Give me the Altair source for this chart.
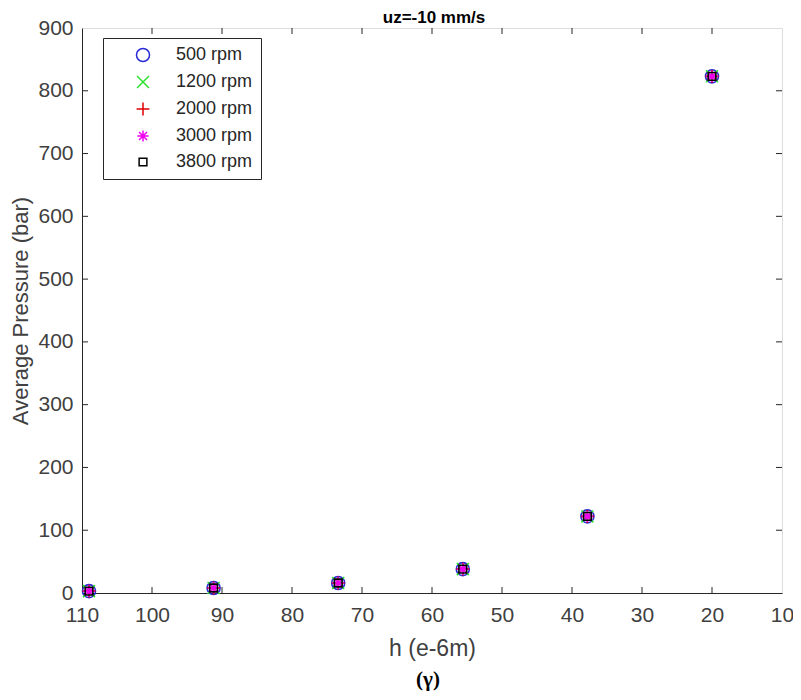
import altair as alt
import pandas as pd

# data
h_values = [109.0, 91.2, 73.4, 55.6, 37.8, 20.0]
p_500 = [3, 8, 16, 38, 122, 823]
p_1200 = [3, 8, 16, 38, 122, 823]
p_2000 = [3, 8, 16, 38, 122, 823]
p_3000 = [3, 8, 16, 38, 122, 823]
p_3800 = [3, 8, 16, 38, 122, 823]
series_names = ["500 rpm", "1200 rpm", "2000 rpm", "3000 rpm", "3800 rpm"]
series_colors = ["#2b2bd6", "#2ee02e", "#e00000", "#ee00ee", "#000000"]
series_shapes = ["circle", "M-1,-1L1,1M-1,1L1,-1", "M0,-1.2L0,1.2M-1.2,0L1.2,0",
                 "M0,-1.2L0,1.2M-1.2,0L1.2,0M-0.85,-0.85L0.85,0.85M-0.85,0.85L0.85,-0.85",
                 "square"]
series_sizes = [170, 60, 110, 90, 70]
x_ticks = [100, 90, 80, 70, 60, 50, 40, 30, 20]
y_ticks = [100, 200, 300, 400, 500, 600, 700, 800]
x_labels = [110, 100, 90, 80, 70, 60, 50, 40, 30, 20, 10]
y_labels = [0, 100, 200, 300, 400, 500, 600, 700, 800, 900]

rows = []
for name, vals in zip(series_names, [p_500, p_1200, p_2000, p_3000, p_3800]):
    for h, p in zip(h_values, vals):
        rows.append({"h": h, "p": p, "series": name, "order": series_names.index(name)})
df = pd.DataFrame(rows)

W, H = 700, 565
FONT = "Liberation Sans"
TXT = "#404040"
xscale = alt.Scale(domain=[110, 10], nice=False, zero=False)
yscale = alt.Scale(domain=[0, 900], nice=False)

points = alt.Chart(df).mark_point(filled=False, strokeWidth=1.6, opacity=1).encode(
    x=alt.X("h:Q", scale=xscale,
            axis=alt.Axis(title="h (e-6m)", values=x_labels, labelFlush=False,
                          tickSize=0, grid=False, labelPadding=11, titlePadding=12,
                          labelFontSize=21, titleFontSize=23, labelColor=TXT,
                          titleColor=TXT, titleFontWeight="normal",
                          domainColor="#262626", labelFont=FONT, titleFont=FONT)),
    y=alt.Y("p:Q", scale=yscale,
            axis=alt.Axis(title="Average Pressure (bar)", values=y_labels, labelFlush=False,
                          tickSize=0, grid=False, labelPadding=9, titlePadding=5,
                          labelFontSize=21, titleFontSize=22, labelColor=TXT,
                          titleColor=TXT, titleFontWeight="normal",
                          domainColor="#262626", labelFont=FONT, titleFont=FONT)),
    color=alt.Color("series:N", scale=alt.Scale(domain=series_names, range=series_colors),
                    legend=alt.Legend(title=None, orient="none", legendX=21, legendY=10,
                                      fillColor="white", strokeColor="#262626", padding=8,
                                      symbolOffset=23, labelOffset=24, rowPadding=8,
                                      labelFontSize=18, labelFont=FONT, labelColor="#262626",
                                      symbolStrokeWidth=1.5, labelLimit=250)),
    shape=alt.Shape("series:N", scale=alt.Scale(domain=series_names, range=series_shapes)),
    size=alt.Size("series:N", scale=alt.Scale(domain=series_names, range=series_sizes)),
    order=alt.Order("order:Q"),
)

xt = pd.DataFrame({"v": x_ticks})
yt = pd.DataFrame({"v": y_ticks})
tick_color = "#262626"
xb = alt.Chart(xt).mark_rule(color=tick_color).encode(x=alt.X("v:Q", scale=xscale), y=alt.value(H), y2=alt.value(H - 6))
xtp = alt.Chart(xt).mark_rule(color=tick_color).encode(x=alt.X("v:Q", scale=xscale), y=alt.value(0), y2=alt.value(6))
yl = alt.Chart(yt).mark_rule(color=tick_color).encode(y=alt.Y("v:Q", scale=yscale), x=alt.value(0), x2=alt.value(6))
yr = alt.Chart(yt).mark_rule(color=tick_color).encode(y=alt.Y("v:Q", scale=yscale), x=alt.value(W), x2=alt.value(W - 6))

title_txt = alt.Chart(pd.DataFrame({"t": ["uz=-10 mm/s"]})).mark_text(
    font=FONT, fontSize=17, fontWeight="bold", color="#000000", baseline="middle"
).encode(text="t:N", x=alt.value(W / 2 + 2), y=alt.value(-10))

caption = alt.Chart(pd.DataFrame({"t": ["(γ)"]})).mark_text(
    font="Liberation Serif", fontSize=21, fontWeight="bold", color="#000000", baseline="middle"
).encode(text="t:N", x=alt.value(W / 2 - 4), y=alt.value(H + 87))

chart = alt.layer(points, xb, xtp, yl, yr, title_txt, caption).properties(
    width=W, height=H,
    autosize=alt.AutoSizeParams(type="none"),
    padding={"left": 74, "top": 20, "right": 11, "bottom": 99},
).configure_view(stroke="#262626", strokeWidth=1).configure(background="white")

chart.save("out.html", embed_options={"renderer": "svg", "actions": False})
